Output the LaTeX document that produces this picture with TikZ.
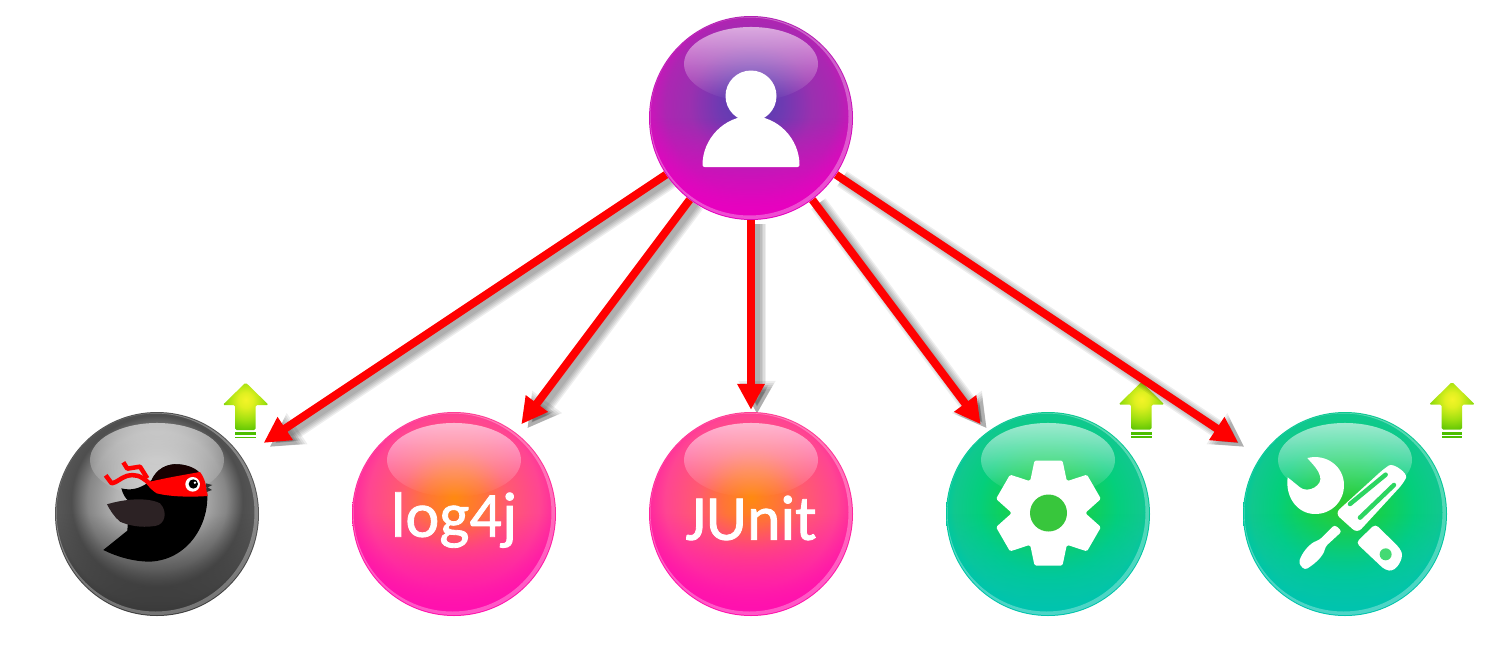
\documentclass[tikz,border=0pt]{standalone}
\usepackage{fontspec}
\setmainfont{Carlito}
\newfontfamily\orbfont[FakeBold=1.3]{Carlito}
\usetikzlibrary{arrows.meta,fadings,calc}
\pgfdeclarelayer{badges}
\pgfdeclarelayer{links}
\pgfsetlayers{badges,links,main}
\definecolor{uA}{HTML}{4E40B2}\definecolor{uB}{HTML}{6F3AB2}\definecolor{uC}{HTML}{9A30B0}\definecolor{uD}{HTML}{AC26B2}\definecolor{uE}{HTML}{CC14BA}\definecolor{uF}{HTML}{EA00C0}
\definecolor{pA}{HTML}{FF8A10}\definecolor{pB}{HTML}{FF7438}\definecolor{pC}{HTML}{FF5A70}\definecolor{pD}{HTML}{FF4592}\definecolor{pE}{HTML}{FF289E}\definecolor{pF}{HTML}{FF10B0}
\definecolor{gA}{HTML}{2ECC30}\definecolor{gB}{HTML}{14D050}\definecolor{gC}{HTML}{04CF7C}\definecolor{gD}{HTML}{10C88E}\definecolor{gE}{HTML}{02C89C}\definecolor{gF}{HTML}{00C4B0}
\definecolor{kA}{HTML}{D4D4D4}\definecolor{kB}{HTML}{B4B4B4}\definecolor{kC}{HTML}{868686}\definecolor{kD}{HTML}{4E4E4E}\definecolor{kE}{HTML}{585858}\definecolor{kF}{HTML}{3A3A3A}
\definecolor{bdA}{HTML}{F4F428}\definecolor{bdA2}{HTML}{E0F020}\definecolor{bdB}{HTML}{A0E010}\definecolor{bdC}{HTML}{4CBE00}
\pgfdeclareradialshading{orbu}{\pgfpoint{0bp}{4bp}}{color(0bp)=(uA);color(8bp)=(uB);color(15bp)=(uC);color(21bp)=(uD);color(25bp)=(uE);color(29bp)=(uF);color(100bp)=(uF)}
\pgfdeclareradialshading{orbp}{\pgfpoint{0bp}{4bp}}{color(0bp)=(pA);color(7bp)=(pB);color(13bp)=(pC);color(21bp)=(pD);color(25bp)=(pE);color(29bp)=(pF);color(100bp)=(pF)}
\pgfdeclareradialshading{orbg}{\pgfpoint{0bp}{2bp}}{color(0bp)=(gA);color(9bp)=(gB);color(17bp)=(gC);color(23bp)=(gD);color(25bp)=(gE);color(27bp)=(gF);color(100bp)=(gF)}
\pgfdeclareradialshading{orbk}{\pgfpoint{0bp}{4bp}}{color(0bp)=(kA);color(10bp)=(kB);color(17bp)=(kC);color(21bp)=(kD);color(25bp)=(kE);color(29bp)=(kF);color(100bp)=(kF)}
\pgfdeclareradialshading{badgeshade}{\pgfpoint{0bp}{7bp}}{color(0bp)=(bdA);color(8bp)=(bdA2);color(20bp)=(bdB);color(34bp)=(bdC);color(100bp)=(bdC)}
\tikzfading[name=glossfade,top color=transparent!40,bottom color=transparent!100]
\tikzfading[name=basefade,top color=transparent!100,bottom color=transparent!0,middle color=transparent!100]
\tikzset{
  orb/.style={circle,inner sep=0pt,minimum size=204pt},
  iconfill/.style={fill=white,draw=none},
  orbtext/.style={text=white,font=\orbfont\fontsize{64}{64}\selectfont,inner sep=0pt},
  redlink/.style={draw=red,line width=8pt,-{Stealth[length=26pt,width=26pt,inset=0pt]}},
}
\newcommand{\gloss}[2]{%
  \fill[#2,path fading=basefade,fading angle=0] (#1.center) circle (101.5);
  \fill[white,path fading=glossfade,fading angle=0] ($(#1.center)+(-67,-54)$) arc[start angle=180,end angle=540,x radius=67,y radius=37];
  \begin{scope}
    \clip (#1.center) circle (101);
    \fill[white,opacity=.3,even odd rule] ($(#1.center)+(-1.5,-1.5)$) circle (130) ($(#1.center)+(-1.5,-1.5)$) circle (99);
  \end{scope}
}
\newcommand{\link}[3]{%
  \begin{pgfonlayer}{links}
    \begin{scope}[transform canvas={shift={(6pt,-4pt)}}]
      \foreach \w/\l/\h in {18/33/35,15/31/32,12/29/30,9/27/28,6/25/25}{
        \draw[black,opacity=.07,line width=\w pt,shorten >=#3pt,-{Stealth[length=\l pt,width=\h pt,inset=0pt]}] (#1) -- (#2);
      }
    \end{scope}
    \draw[redlink,shorten >=#3pt] (#1) -- (#2);
  \end{pgfonlayer}
}
\newcommand{\upbadge}[2]{%
  \begin{pgfonlayer}{badges}
  \begin{scope}[shift={(#1,#2)}]
    \shade[shading=badgeshade,rounded corners=1.5pt] (0,0) -- (23,22.5) -- (10,22.5) -- (10,47.5) -- (-10.5,47.5) -- (-10.5,22.5) -- (-23,22.5) -- cycle;
    \fill[bdC] (-10.5,49.5) rectangle (10,52.5);
    \fill[bdC] (-10.5,54) rectangle (10,55.5);
  \end{scope}
  \end{pgfonlayer}
}
\begin{document}
\begin{tikzpicture}[x=1pt,y=-1pt]
\useasboundingbox (0,0) rectangle (1508,648);
\begin{pgfonlayer}{badges}
\fill[white] (0,0) rectangle (1508,648);
\end{pgfonlayer}
% orbs
\node[orb,shading=orbu] (user) at (751,118) {};
\node[orb,shading=orbk] (bird) at (157,514) {};
\node[orb,shading=orbp] (logj) at (454,514) {};
\node[orb,shading=orbp] (junit) at (751,514) {};
\node[orb,shading=orbg] (gear) at (1048,514) {};
\node[orb,shading=orbg] (tools) at (1345,514) {};
\gloss{user}{uF}\gloss{bird}{kF}\gloss{logj}{pF}\gloss{junit}{pF}\gloss{gear}{gF}\gloss{tools}{gF}
% upgrade badges
\upbadge{245.7}{382.5}
\upbadge{1141.5}{382}
\upbadge{1452}{382}
% connectors
\link{user}{bird}{26}
\link{user}{logj}{10}
\link{user}{junit}{2}
\link{user}{gear}{10}
\link{user}{tools}{26}
% person icon
\fill[iconfill] ($(user.center)+(0,-22)$) circle (25.5);
\fill[iconfill,rounded corners=2pt] ($(user.center)+(-48.5,49)$) arc[start angle=180,end angle=360,x radius=48.5,y radius=51] -- cycle;
% labels
\node[orbtext] (logjtext) at (454,520) {log4j};
\node[orbtext] (junittext) at (751,518) {JUnit};
% gear icon
\foreach \a in {0,60,120,180,240,300}{
  \fill[iconfill,rounded corners=1.5pt,rotate around={\a:(1048.5,513)}] (1030,482) -- (1034.5,460.5) -- (1062.5,460.5) -- (1067,482) -- cycle;
}
\fill[iconfill] (1048.5,513) circle (38);
\fill[fill={rgb,255:red,56;green,198;blue,60}] (1048.5,513) circle (18.5);
% tools icon (coordinates in 1/3 px)
\begin{scope}[shift={(1220,370)},x=.3333pt,y=-.3333pt]
  \fill[iconfill] (262,264) .. controls (320,250) and (372,290) .. (372,345) .. controls (372,395) and (335,432) .. (285,432) .. controls (235,432) and (195,385) .. (203,322) -- (240,352) .. controls (265,372) and (310,345) .. (300,318) .. controls (296,300) and (280,285) .. (262,264) -- cycle;
  \fill[iconfill,rounded corners=6pt] (345,430) -- (492,296) .. controls (520,278) and (565,310) .. (550,340) -- (412,490) -- cycle;
  \draw[gB!90!white,line width=4.5pt,line cap=round] (390,402) -- (497,314);
  \draw[gB!90!white,line width=4.5pt,line cap=round] (420,443) -- (522,345);
  \fill[iconfill,rounded corners=3pt] (344,464) -- (366,484) -- (316,530) .. controls (310,560) and (280,585) .. (254,600) -- (236,580) .. controls (245,550) and (268,520) .. (298,510) -- cycle;
  \fill[iconfill,rounded corners=4pt] (408,518) -- (466,462) -- (540,535) .. controls (552,565) and (530,605) .. (495,600) -- cycle;
  \fill[gB!80!white] (497,553) circle (18);
\end{scope}
% ninja bird icon (coordinates in 1/3 px)
\begin{scope}[shift={(40,370)},x=.3333pt,y=-.3333pt]
  \fill[black] (190,540) -- (262,482) -- (268,395) .. controls (255,385) and (248,370) .. (244,355) .. controls (280,365) and (310,350) .. (335,330) .. controls (350,295) and (385,280) .. (415,283) .. controls (465,285) and (495,320) .. (502,375) .. controls (505,470) and (440,570) .. (330,575) .. controls (280,575) and (230,560) .. (190,540) -- cycle;
  \fill[black!65!red!25!black] (335,330) .. controls (350,295) and (385,280) .. (415,283) .. controls (445,285) and (470,295) .. (482,312) .. controls (430,315) and (380,325) .. (335,330) -- cycle;
  \fill[fill={rgb,255:red,44;green,34;blue,36}] (201,403) .. controls (250,388) and (320,380) .. (360,400) .. controls (385,425) and (375,465) .. (345,468) .. controls (300,475) and (262,465) .. (240,455) .. controls (222,440) and (210,420) .. (201,403) -- cycle;
  \fill[red] (318,338) .. controls (370,325) and (430,315) .. (480,306) .. controls (495,325) and (500,350) .. (503,378) .. controls (450,382) and (390,380) .. (350,370) .. controls (335,360) and (325,350) .. (318,338) -- cycle;
  \draw[red,line width=4.5pt,line join=round] (328,340) .. controls (300,315) and (285,312) .. (260,318) .. controls (240,325) and (230,338) .. (215,340) -- (197,316);
  \draw[red,line width=4.5pt,line join=round] (322,325) -- (300,290) -- (262,296) -- (250,277);
  \fill[white] (458,343) circle (22);
  \fill[black] (460,342) circle (14);
  \fill[white] (465,338) circle (4);
  \fill[black!80!white] (498,340) -- (517,345) -- (503,352) -- (516,360) -- (500,366) -- cycle;
\end{scope}
\end{tikzpicture}
\end{document}
